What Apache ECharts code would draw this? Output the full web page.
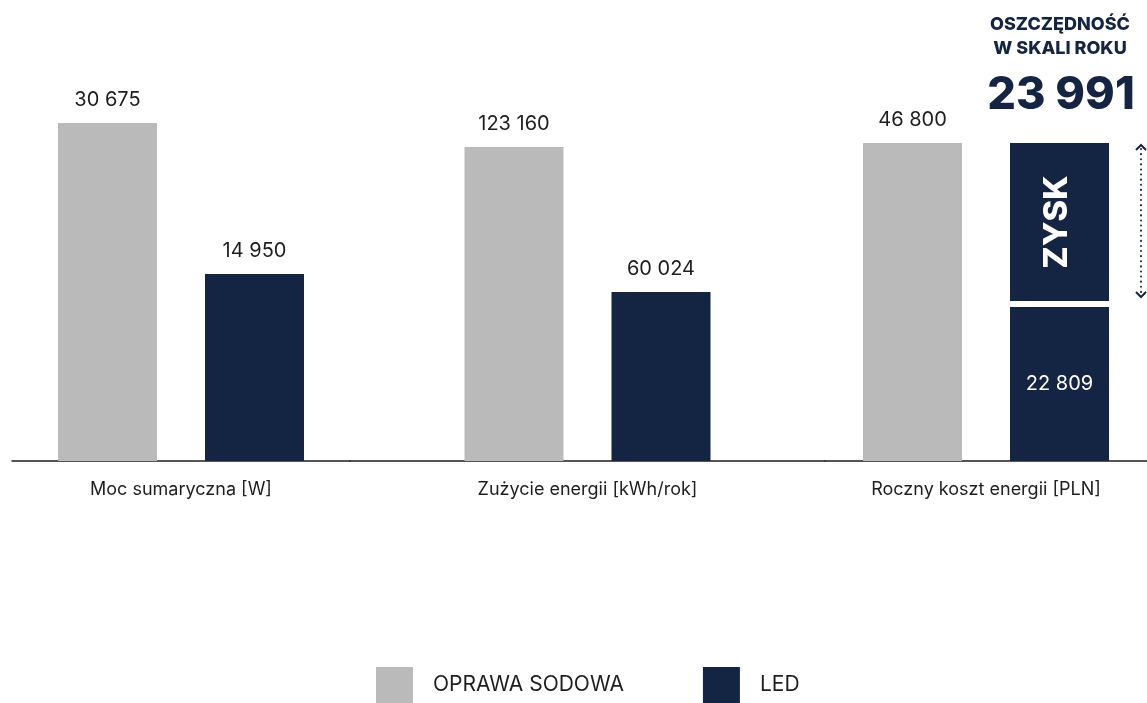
<!DOCTYPE html>
<html><head><meta charset="utf-8">
<script src="https://cdn.jsdelivr.net/npm/echarts@6/dist/echarts.min.js"></script>
<style>html,body{margin:0;padding:0;background:#fff}#c{width:1147px;height:703px}</style>
</head><body><div id="c"></div>
<script>
// ---- data ----
const categories = ['Moc sumaryczna [W]', 'Zużycie energii [kWh/rok]', 'Roczny koszt energii [PLN]'];
const sodiumValues = [30675, 123160, 46800];
const ledValues = [14950, 60024, 22809];
const savingsValue = 23991;
const seriesNames = ['OPRAWA SODOWA', 'LED'];
const savingsTitle = ['OSZCZĘDNOŚĆ', 'W SKALI ROKU'];
const savingsLabel = 'ZYSK';

// ---- styling / layout ----
const GREY = '#bababa', NAVY = '#142543', TEXT = '#1e1e1e';
const FONT = 'Inter, "Noto Sans", sans-serif';
const fmt = v => String(v).replace(/\B(?=(\d{3})+(?!\d))/g, ' ');
const BAR_W = 99, OFFSET = 73.5;
const grids = [{left: 12, width: 338}, {left: 350, width: 475}, {left: 825, width: 322}];
const yRanges = [[-4520, 33072], [-13550, 143639], [0, 53128]];

function makeRender(offset, color, stacked) {
  return function (params, api) {
    const cs = params.coordSys;
    const baseY = cs.y + cs.height;
    const v = api.value(1);
    const p = api.coord([api.value(0), v]);
    const cx = p[0] + offset;
    const x = cx - BAR_W / 2;
    const children = [];
    if (!stacked) {
      children.push({type: 'rect', shape: {x: x, y: p[1], width: BAR_W, height: baseY - p[1]}, style: {fill: color}});
      children.push({type: 'text', style: {text: fmt(v), x: cx, y: p[1] - 23, align: 'center', verticalAlign: 'middle', fill: TEXT, font: '20px ' + FONT}});
    } else {
      const t = api.coord([api.value(0), v + savingsValue]);
      const midY = p[1];
      children.push({type: 'rect', shape: {x: x, y: midY + 1, width: BAR_W, height: baseY - midY - 1}, style: {fill: color}});
      children.push({type: 'text', style: {text: fmt(v), x: cx, y: (midY + baseY) / 2, align: 'center', verticalAlign: 'middle', fill: '#ffffff', font: '20px ' + FONT}});
      children.push({type: 'rect', shape: {x: x, y: t[1], width: BAR_W, height: midY - 5 - t[1]}, style: {fill: color}});
      children.push({type: 'text', x: cx - 2, y: (t[1] + midY - 5) / 2, rotation: Math.PI / 2,
        style: {text: savingsLabel, x: 0, y: 0, align: 'center', verticalAlign: 'middle', fill: '#ffffff', font: '800 33px ' + FONT}});
      const ax = x + BAR_W + 32;
      const y1 = t[1] + 1, y2 = midY - 8;
      children.push({type: 'line', shape: {x1: ax, y1: y1 + 5, x2: ax, y2: y2 - 5}, style: {stroke: color, lineWidth: 2, lineDash: [0.1, 5], lineCap: 'round'}});
      children.push({type: 'polyline', shape: {points: [[ax - 5, y1 + 6], [ax, y1 + 1], [ax + 5, y1 + 6]]}, style: {stroke: color, lineWidth: 2, fill: null}});
      children.push({type: 'polyline', shape: {points: [[ax - 5, y2 - 6], [ax, y2 - 1], [ax + 5, y2 - 6]]}, style: {stroke: color, lineWidth: 2, fill: null}});
    }
    return {type: 'group', children: children};
  };
}

const series = [];
categories.forEach((c, i) => {
  series.push({type: 'custom', name: seriesNames[0], xAxisIndex: i, yAxisIndex: i, clip: false,
    itemStyle: {color: GREY}, encode: {x: 0, y: 1}, data: [[0, sodiumValues[i]]], renderItem: makeRender(-OFFSET, GREY, false)});
  series.push({type: 'custom', name: seriesNames[1], xAxisIndex: i, yAxisIndex: i, clip: false,
    itemStyle: {color: NAVY}, encode: {x: 0, y: 1}, data: [[0, ledValues[i]]], renderItem: makeRender(OFFSET, NAVY, i === 2)});
});

const chart = echarts.init(document.getElementById('c'), null, {renderer: 'canvas'});
chart.setOption({
  animation: false,
  backgroundColor: '#ffffff',
  textStyle: {fontFamily: FONT},
  grid: grids.map(g => ({left: g.left, width: g.width, top: 100, bottom: 242})),
  xAxis: categories.map((c, i) => ({
    type: 'category', gridIndex: i, data: [c],
    axisLine: {show: true, onZero: false, lineStyle: {color: TEXT, width: 1.5}}, axisTick: {show: false},
    axisLabel: {color: TEXT, fontSize: 18, margin: 20, fontFamily: FONT}
  })),
  yAxis: categories.map((c, i) => ({
    type: 'value', gridIndex: i, min: yRanges[i][0], max: yRanges[i][1], show: false, splitLine: {show: false}
  })),
  legend: {
    left: 376, top: 667, padding: 0, itemWidth: 37, itemHeight: 36, itemGap: 79, icon: 'rect',
    textStyle: {color: TEXT, fontSize: 21, fontFamily: FONT, padding: [3, 0, 0, 15]},
    data: [{name: seriesNames[0], itemStyle: {color: GREY}}, {name: seriesNames[1], itemStyle: {color: NAVY}}]
  },
  graphic: [
    {type: 'text', style: {text: savingsTitle.join('\n'), x: 1060, y: 13, align: 'center', fill: NAVY, font: '800 18px ' + FONT, lineHeight: 24}},
    {type: 'text', style: {text: fmt(savingsValue), x: 1061, y: 95, align: 'center', verticalAlign: 'middle', fill: NAVY, font: '800 45px ' + FONT}}
  ],
  series: series
});
</script>
</body></html>
